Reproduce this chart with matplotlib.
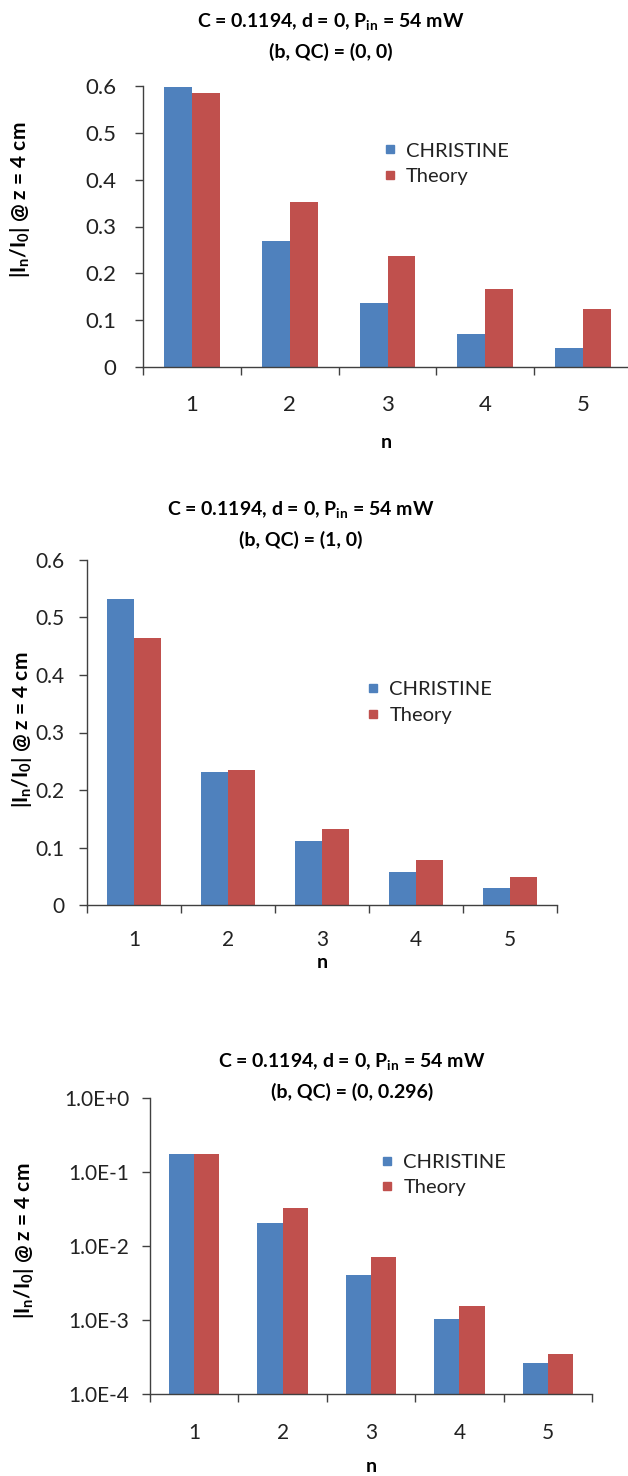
import matplotlib
matplotlib.use("Agg")
import matplotlib.pyplot as plt
import numpy as np
from matplotlib.lines import Line2D

plt.rcParams['font.family'] = ['Lato', 'DejaVu Sans']
plt.rcParams['mathtext.fontset'] = 'custom'
plt.rcParams['mathtext.rm'] = 'Lato'
plt.rcParams['mathtext.it'] = 'Lato:italic'
plt.rcParams['mathtext.bf'] = 'Lato:bold'

# data
n = [1, 2, 3, 4, 5]
christine_00 = [0.598, 0.270, 0.136, 0.071, 0.040]
theory_00 = [0.585, 0.352, 0.236, 0.166, 0.123]
christine_10 = [0.533, 0.232, 0.112, 0.057, 0.029]
theory_10 = [0.464, 0.235, 0.132, 0.078, 0.048]
christine_0q = [0.173, 0.0205, 0.0040, 0.00102, 0.00026]
theory_0q = [0.176, 0.033, 0.0070, 0.00155, 0.00035]

title_line1 = r"C = 0.1194, d = 0, P$\mathregular{_{in}}$ = 54 mW"
subtitles = ["(b, QC) = (0, 0)", "(b, QC) = (1, 0)", "(b, QC) = (0, 0.296)"]
ylabel = r"|I$\mathbf{_{n}}$/I$\mathbf{_{0}}$| @ z = 4 cm"

blue = '#4F81BD'
red = '#C0504D'
axcol = '#404040'
W, H = 628, 1476

fig = plt.figure(figsize=(W / 100, H / 100), dpi=100)

def px_axes(left, right, top, bottom):
    return fig.add_axes([left / W, 1 - bottom / H, (right - left) / W, (bottom - top) / H])

# pixel boxes of each plot area: left, right, top, bottom
boxes = [(143, 632, 86, 367), (87, 557, 560, 905), (150, 592, 1098, 1394)]
series = [(christine_00, theory_00), (christine_10, theory_10), (christine_0q, theory_0q)]
title_pos = [(331, 21, 52), (301, 510, 540), (352, 1062, 1092)]
ylabel_pos = [(20, 200), (22, 730), (24, 1241)]
n_pos = [(386, 443), (322, 962), (371, 1467)]
legend_anchor = [(0.493, 0.724), (0.596, 0.587), (0.523, 0.740)]
tick_fs = [16, 15, 15]
ypad = [13, 10, 9]
xpad = [20, 18, 21]

x = np.array(n)
w = 0.286

for i in range(3):
    ax = px_axes(*boxes[i])
    c, t = series[i]
    if i == 2:
        ax.set_yscale('log')
    ax.bar(x - w / 2, c, w, color=blue, label='CHRISTINE')
    ax.bar(x + w / 2, t, w, color=red, label='Theory')
    ax.set_xlim(0.5, 5.5)
    if i == 2:
        ax.set_ylim(1e-4, 1)
        yt = [1e-4, 1e-3, 1e-2, 1e-1, 1]
        ax.set_yticks(yt)
        ax.set_yticklabels(["1.0E-4", "1.0E-3", "1.0E-2", "1.0E-1", "1.0E+0"])
        ax.minorticks_off()
    else:
        ax.set_ylim(0, 0.6)
        yt = [0, 0.1, 0.2, 0.3, 0.4, 0.5, 0.6]
        ax.set_yticks(yt)
        ax.set_yticklabels(["0"] + ["%.1f" % v for v in yt[1:]])
    ax.set_xticks(x)
    ax.set_xticklabels([str(v) for v in n])
    ax.set_xticks(np.arange(0.5, 6, 1), minor=True)
    ax.tick_params(axis='x', which='major', length=0, pad=xpad[i], labelsize=tick_fs[i], labelcolor='#222222')
    ax.tick_params(axis='x', which='minor', length=6, width=1, color=axcol, direction='out')
    ax.tick_params(axis='y', which='major', length=6, width=1, color=axcol, pad=ypad[i],
                   labelsize=tick_fs[i], labelcolor='#222222')
    for s in ['top', 'right']:
        ax.spines[s].set_visible(False)
    for s in ['left', 'bottom']:
        ax.spines[s].set_color(axcol)
        ax.spines[s].set_linewidth(1)

    handles = [Line2D([], [], ls='', marker='s', ms=6, color=blue),
               Line2D([], [], ls='', marker='s', ms=6, color=red)]
    ax.legend(handles, ['CHRISTINE', 'Theory'], loc='center left', bbox_to_anchor=legend_anchor[i],
              frameon=False, fontsize=14.5, handlelength=0.6, handletextpad=0.5,
              labelspacing=0.4, borderpad=0, borderaxespad=0, labelcolor='#222222')

    tx, ty1, ty2 = title_pos[i]
    fig.text(tx / W, 1 - ty1 / H, title_line1, ha='center', va='center', fontsize=14, fontweight='bold')
    fig.text(tx / W, 1 - ty2 / H, subtitles[i], ha='center', va='center', fontsize=14, fontweight='bold')
    lx, ly = ylabel_pos[i]
    fig.text(lx / W, 1 - ly / H, ylabel, rotation=90, ha='center', va='center', fontsize=15, fontweight='bold')
    nx, ny = n_pos[i]
    fig.text(nx / W, 1 - ny / H, 'n', ha='center', va='center', fontsize=14, fontweight='bold')

fig.savefig('out.png', dpi=100)
